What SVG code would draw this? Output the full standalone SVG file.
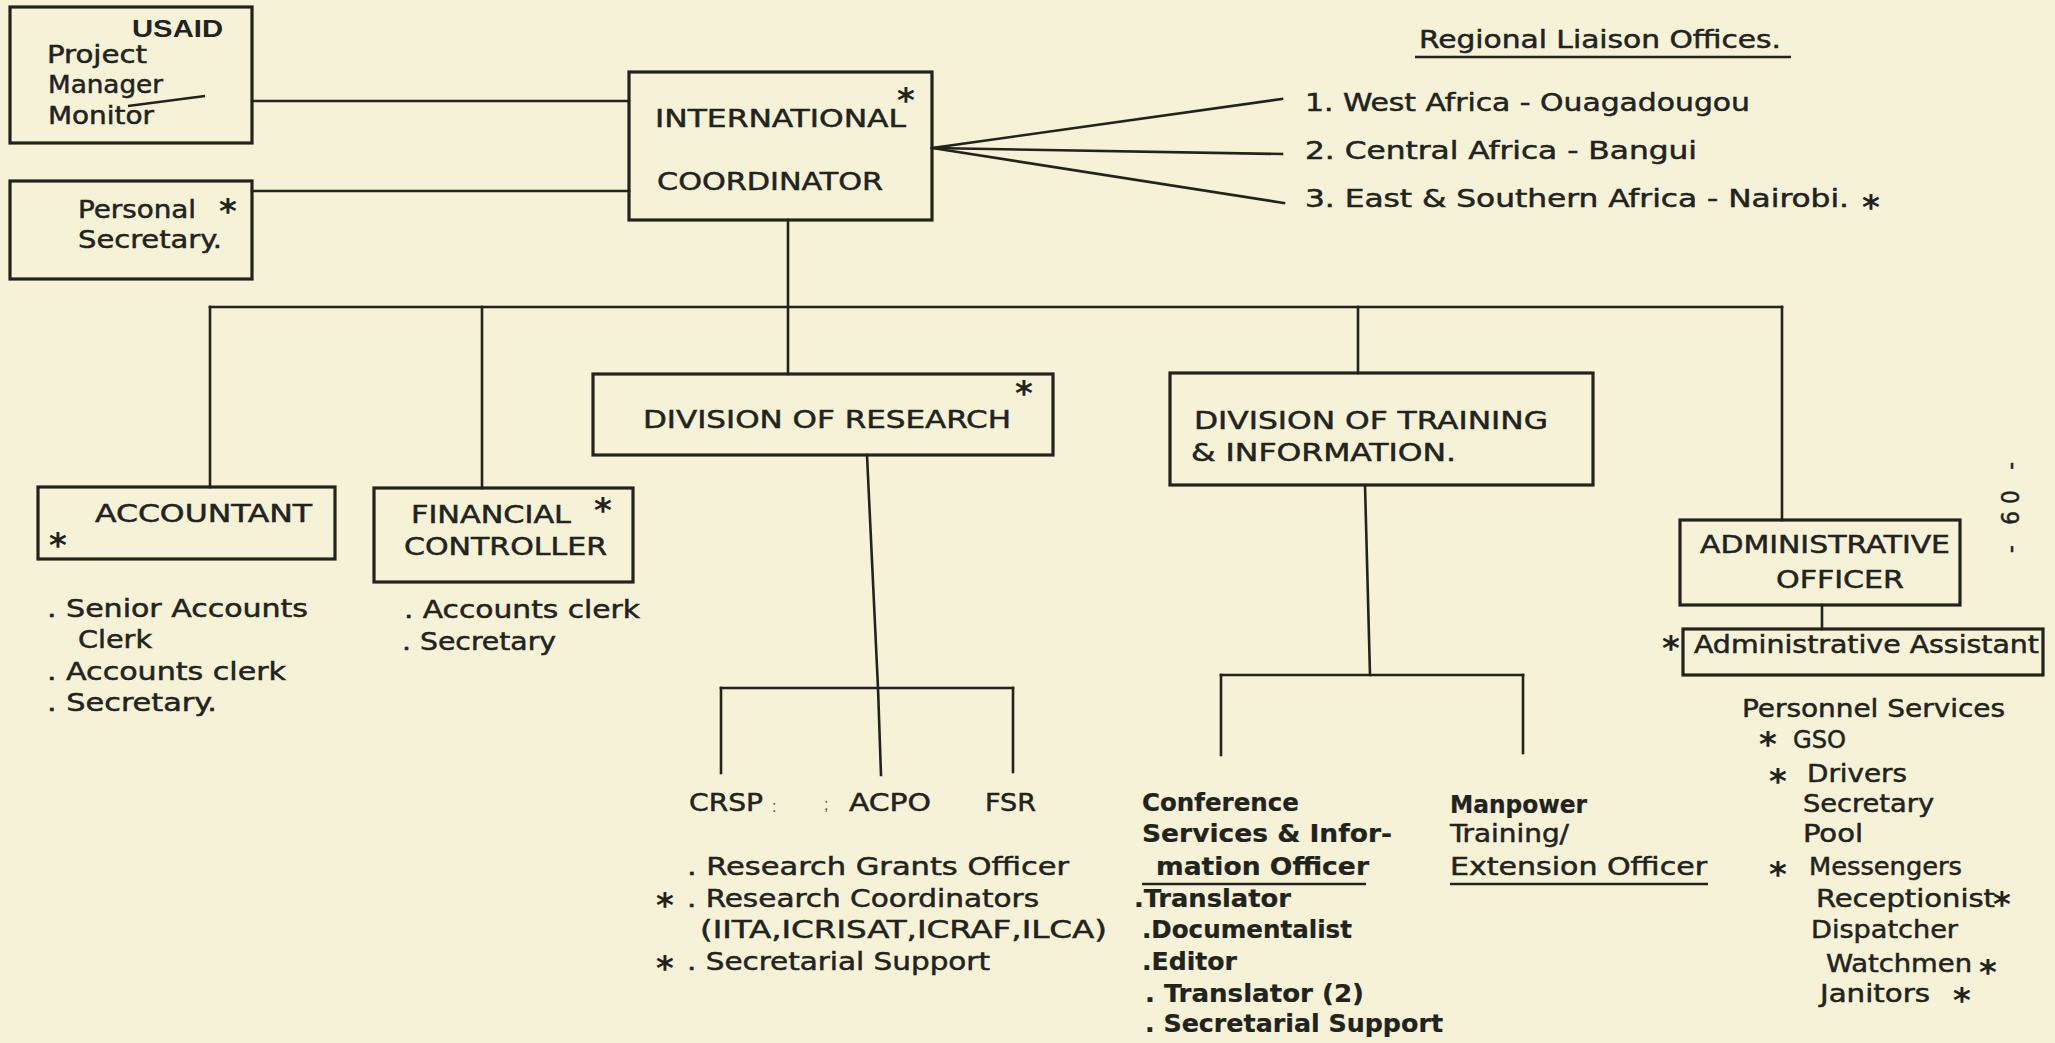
<svg xmlns="http://www.w3.org/2000/svg" width="2055" height="1043" viewBox="0 0 2055 1043">
<defs>
<style>
.bg{fill:#f5f2d8}
.box{fill:none;stroke:#23231d;stroke-width:3.2}
.ln{fill:none;stroke:#23231d;stroke-width:2.6;stroke-linecap:square}
.ul{fill:none;stroke:#23231d;stroke-width:2.4}
.t{font-family:"Liberation Sans Narrow","DejaVu Sans Condensed","Liberation Sans",sans-serif;font-size:24px;fill:#23231d;stroke:#23231d;stroke-width:0.45}
.h{font-family:"Liberation Sans Narrow","DejaVu Sans Condensed","Liberation Sans",sans-serif;font-size:24px;fill:#23231d;stroke:#23231d;stroke-width:0.45}
.b{font-weight:bold;stroke-width:0.2}
.ast{font-family:"DejaVu Sans",sans-serif;font-weight:bold;font-size:34px;fill:#23231d;text-anchor:middle}
.hw{font-family:"Liberation Sans","DejaVu Sans",sans-serif;font-weight:bold;font-size:23px;fill:#23231d}
.sm{font-family:"Liberation Sans",sans-serif;font-size:16px;fill:#55554a}
</style>
</defs>
<rect class="bg" x="0" y="0" width="2055" height="1043"/>

<g id="connectors">
<line class="ln" x1="252" y1="101" x2="629" y2="101"/>
<line class="ln" x1="252" y1="191" x2="629" y2="191"/>
<line class="ln" x1="932" y1="148" x2="1282" y2="99"/>
<line class="ln" x1="932" y1="148" x2="1282" y2="154"/>
<line class="ln" x1="932" y1="148" x2="1284" y2="203"/>
<line class="ln" x1="788" y1="220" x2="788" y2="374"/>
<line class="ln" x1="210" y1="307" x2="1782" y2="307"/>
<line class="ln" x1="210" y1="307" x2="210" y2="487"/>
<line class="ln" x1="482" y1="307" x2="482" y2="488"/>
<line class="ln" x1="1358" y1="307" x2="1358" y2="373"/>
<line class="ln" x1="1782" y1="307" x2="1782" y2="520"/>
<polyline class="ln" points="867,455 878,688 881,775"/>
<line class="ln" x1="721" y1="688" x2="1013" y2="688"/>
<line class="ln" x1="721" y1="688" x2="721" y2="773"/>
<line class="ln" x1="1013" y1="688" x2="1013" y2="772"/>
<line class="ln" x1="1365" y1="485" x2="1370" y2="675"/>
<line class="ln" x1="1221" y1="675" x2="1523" y2="675"/>
<line class="ln" x1="1221" y1="675" x2="1221" y2="755"/>
<line class="ln" x1="1523" y1="675" x2="1523" y2="753"/>
<line class="ln" x1="1822" y1="605" x2="1822" y2="629"/>
</g>

<g id="usaid">
<rect class="box" x="10" y="7" width="242" height="136"/>
<text class="hw" x="132" y="37" textLength="91" lengthAdjust="spacingAndGlyphs">USAID</text>
<text class="t" x="47" y="63" textLength="100" lengthAdjust="spacingAndGlyphs">Project</text>
<text class="t" x="48" y="93" textLength="115" lengthAdjust="spacingAndGlyphs">Manager</text>
<text class="t" x="48" y="124" textLength="106" lengthAdjust="spacingAndGlyphs">Monitor</text>
<line class="ul" x1="128" y1="106" x2="205" y2="96"/>
</g>

<g id="personal-secretary">
<rect class="box" x="10" y="181" width="242" height="98"/>
<text class="t" x="78" y="218" textLength="118" lengthAdjust="spacingAndGlyphs">Personal</text>
<text class="ast" x="228" y="223">*</text>
<text class="t" x="78" y="248" textLength="144" lengthAdjust="spacingAndGlyphs">Secretary.</text>
</g>

<g id="international-coordinator">
<rect class="box" x="629" y="72" width="303" height="148"/>
<text class="h" x="655" y="127" textLength="251" lengthAdjust="spacingAndGlyphs">INTERNATIONAL</text>
<text class="h" x="657" y="190" textLength="226" lengthAdjust="spacingAndGlyphs">COORDINATOR</text>
<text class="ast" x="906" y="112">*</text>
</g>

<g id="regional-offices">
<text class="t" x="1419" y="48" textLength="362" lengthAdjust="spacingAndGlyphs">Regional Liaison Offices.</text>
<line class="ul" x1="1415" y1="57" x2="1791" y2="57"/>
<text class="t" x="1305" y="111" textLength="445" lengthAdjust="spacingAndGlyphs">1. West Africa - Ouagadougou</text>
<text class="t" x="1305" y="159" textLength="392" lengthAdjust="spacingAndGlyphs">2. Central Africa - Bangui</text>
<text class="t" x="1305" y="207" textLength="544" lengthAdjust="spacingAndGlyphs">3. East &amp; Southern Africa - Nairobi.</text>
<text class="ast" x="1871" y="219">*</text>
</g>

<g id="accountant">
<rect class="box" x="38" y="487" width="297" height="72"/>
<text class="h" x="95" y="522" textLength="217" lengthAdjust="spacingAndGlyphs">ACCOUNTANT</text>
<text class="ast" x="58" y="557">*</text>
<text class="t" x="47" y="617" textLength="261" lengthAdjust="spacingAndGlyphs">. Senior Accounts</text>
<text class="t" x="78" y="648" textLength="74" lengthAdjust="spacingAndGlyphs">Clerk</text>
<text class="t" x="47" y="680" textLength="239" lengthAdjust="spacingAndGlyphs">. Accounts clerk</text>
<text class="t" x="47" y="711" textLength="170" lengthAdjust="spacingAndGlyphs">. Secretary.</text>
</g>

<g id="financial-controller">
<rect class="box" x="374" y="488" width="259" height="94"/>
<text class="h" x="411" y="523" textLength="160" lengthAdjust="spacingAndGlyphs">FINANCIAL</text>
<text class="ast" x="603" y="522">*</text>
<text class="h" x="404" y="555" textLength="203" lengthAdjust="spacingAndGlyphs">CONTROLLER</text>
<text class="t" x="404" y="618" textLength="236" lengthAdjust="spacingAndGlyphs">. Accounts clerk</text>
<text class="t" x="402" y="650" textLength="154" lengthAdjust="spacingAndGlyphs">. Secretary</text>
</g>

<g id="division-of-research">
<rect class="box" x="593" y="374" width="460" height="81"/>
<text class="h" x="643" y="428" textLength="368" lengthAdjust="spacingAndGlyphs">DIVISION OF RESEARCH</text>
<text class="ast" x="1024" y="405">*</text>
</g>

<g id="research-units">
<text class="h" x="689" y="811" textLength="74" lengthAdjust="spacingAndGlyphs">CRSP</text>
<text class="sm" x="772" y="812">:</text>
<text class="sm" x="824" y="810">;</text>
<text class="h" x="849" y="811" textLength="82" lengthAdjust="spacingAndGlyphs">ACPO</text>
<text class="h" x="985" y="811" textLength="51" lengthAdjust="spacingAndGlyphs">FSR</text>
<text class="t" x="687" y="875" textLength="382" lengthAdjust="spacingAndGlyphs">. Research Grants Officer</text>
<text class="ast" x="665" y="917">*</text>
<text class="t" x="687" y="907" textLength="352" lengthAdjust="spacingAndGlyphs">. Research Coordinators</text>
<text class="t" x="700" y="938" textLength="407" lengthAdjust="spacingAndGlyphs">(IITA,ICRISAT,ICRAF,ILCA)</text>
<text class="ast" x="665" y="980">*</text>
<text class="t" x="687" y="970" textLength="303" lengthAdjust="spacingAndGlyphs">. Secretarial Support</text>
</g>

<g id="division-of-training">
<rect class="box" x="1170" y="373" width="423" height="112"/>
<text class="h" x="1194" y="429" textLength="354" lengthAdjust="spacingAndGlyphs">DIVISION OF TRAINING</text>
<text class="h" x="1191" y="461" textLength="265" lengthAdjust="spacingAndGlyphs">&amp; INFORMATION.</text>
</g>

<g id="conference-officer">
<text class="t b" x="1142" y="811" textLength="157" lengthAdjust="spacingAndGlyphs">Conference</text>
<text class="t b" x="1142" y="842" textLength="250" lengthAdjust="spacingAndGlyphs">Services &amp; Infor-</text>
<text class="t b" x="1156" y="875" textLength="213" lengthAdjust="spacingAndGlyphs">mation Officer</text>
<line class="ul" x1="1142" y1="884" x2="1366" y2="884"/>
<text class="t b" x="1134" y="907" textLength="157" lengthAdjust="spacingAndGlyphs">.Translator</text>
<text class="t b" x="1142" y="938" textLength="210" lengthAdjust="spacingAndGlyphs">.Documentalist</text>
<text class="t b" x="1142" y="970" textLength="95" lengthAdjust="spacingAndGlyphs">.Editor</text>
<text class="t b" x="1145" y="1002" textLength="219" lengthAdjust="spacingAndGlyphs">. Translator (2)</text>
<text class="t b" x="1145" y="1032" textLength="298" lengthAdjust="spacingAndGlyphs">. Secretarial Support</text>
</g>

<g id="manpower-officer">
<text class="t b" x="1450" y="813" textLength="137" lengthAdjust="spacingAndGlyphs">Manpower</text>
<text class="t" x="1450" y="842" textLength="119" lengthAdjust="spacingAndGlyphs">Training/</text>
<text class="t" x="1450" y="875" textLength="257" lengthAdjust="spacingAndGlyphs">Extension Officer</text>
<line class="ul" x1="1450" y1="884" x2="1708" y2="884"/>
</g>

<g id="administrative-officer">
<rect class="box" x="1680" y="520" width="280" height="85"/>
<text class="h" x="1700" y="553" textLength="250" lengthAdjust="spacingAndGlyphs">ADMINISTRATIVE</text>
<text class="h" x="1776" y="588" textLength="128" lengthAdjust="spacingAndGlyphs">OFFICER</text>
</g>

<g id="administrative-assistant">
<rect class="box" x="1683" y="629" width="360" height="46"/>
<text class="ast" x="1671" y="660">*</text>
<text class="t" x="1694" y="653" textLength="345" lengthAdjust="spacingAndGlyphs">Administrative Assistant</text>
</g>

<g id="personnel-services">
<text class="t" x="1742" y="717" textLength="263" lengthAdjust="spacingAndGlyphs">Personnel Services</text>
<text class="ast" x="1768" y="756">*</text>
<text class="t" x="1793" y="748" textLength="53" lengthAdjust="spacingAndGlyphs">GSO</text>
<text class="ast" x="1778" y="793">*</text>
<text class="t" x="1807" y="782" textLength="100" lengthAdjust="spacingAndGlyphs">Drivers</text>
<text class="t" x="1803" y="812" textLength="131" lengthAdjust="spacingAndGlyphs">Secretary</text>
<text class="t" x="1803" y="842" textLength="60" lengthAdjust="spacingAndGlyphs">Pool</text>
<text class="ast" x="1778" y="886">*</text>
<text class="t" x="1809" y="875" textLength="153" lengthAdjust="spacingAndGlyphs">Messengers</text>
<text class="t" x="1816" y="907" textLength="179" lengthAdjust="spacingAndGlyphs">Receptionist</text>
<text class="ast" x="2002" y="916">*</text>
<text class="t" x="1811" y="938" textLength="147" lengthAdjust="spacingAndGlyphs">Dispatcher</text>
<text class="t" x="1826" y="972" textLength="146" lengthAdjust="spacingAndGlyphs">Watchmen</text>
<text class="ast" x="1988" y="984">*</text>
<text class="t" x="1820" y="1002" textLength="110" lengthAdjust="spacingAndGlyphs">Janitors</text>
<text class="ast" x="1962" y="1012">*</text>
</g>

<g id="page-number">
<text class="t" transform="translate(2019,553) rotate(-90)" x="0" y="0" textLength="91" lengthAdjust="spacing">- 60 -</text>
</g>
</svg>
